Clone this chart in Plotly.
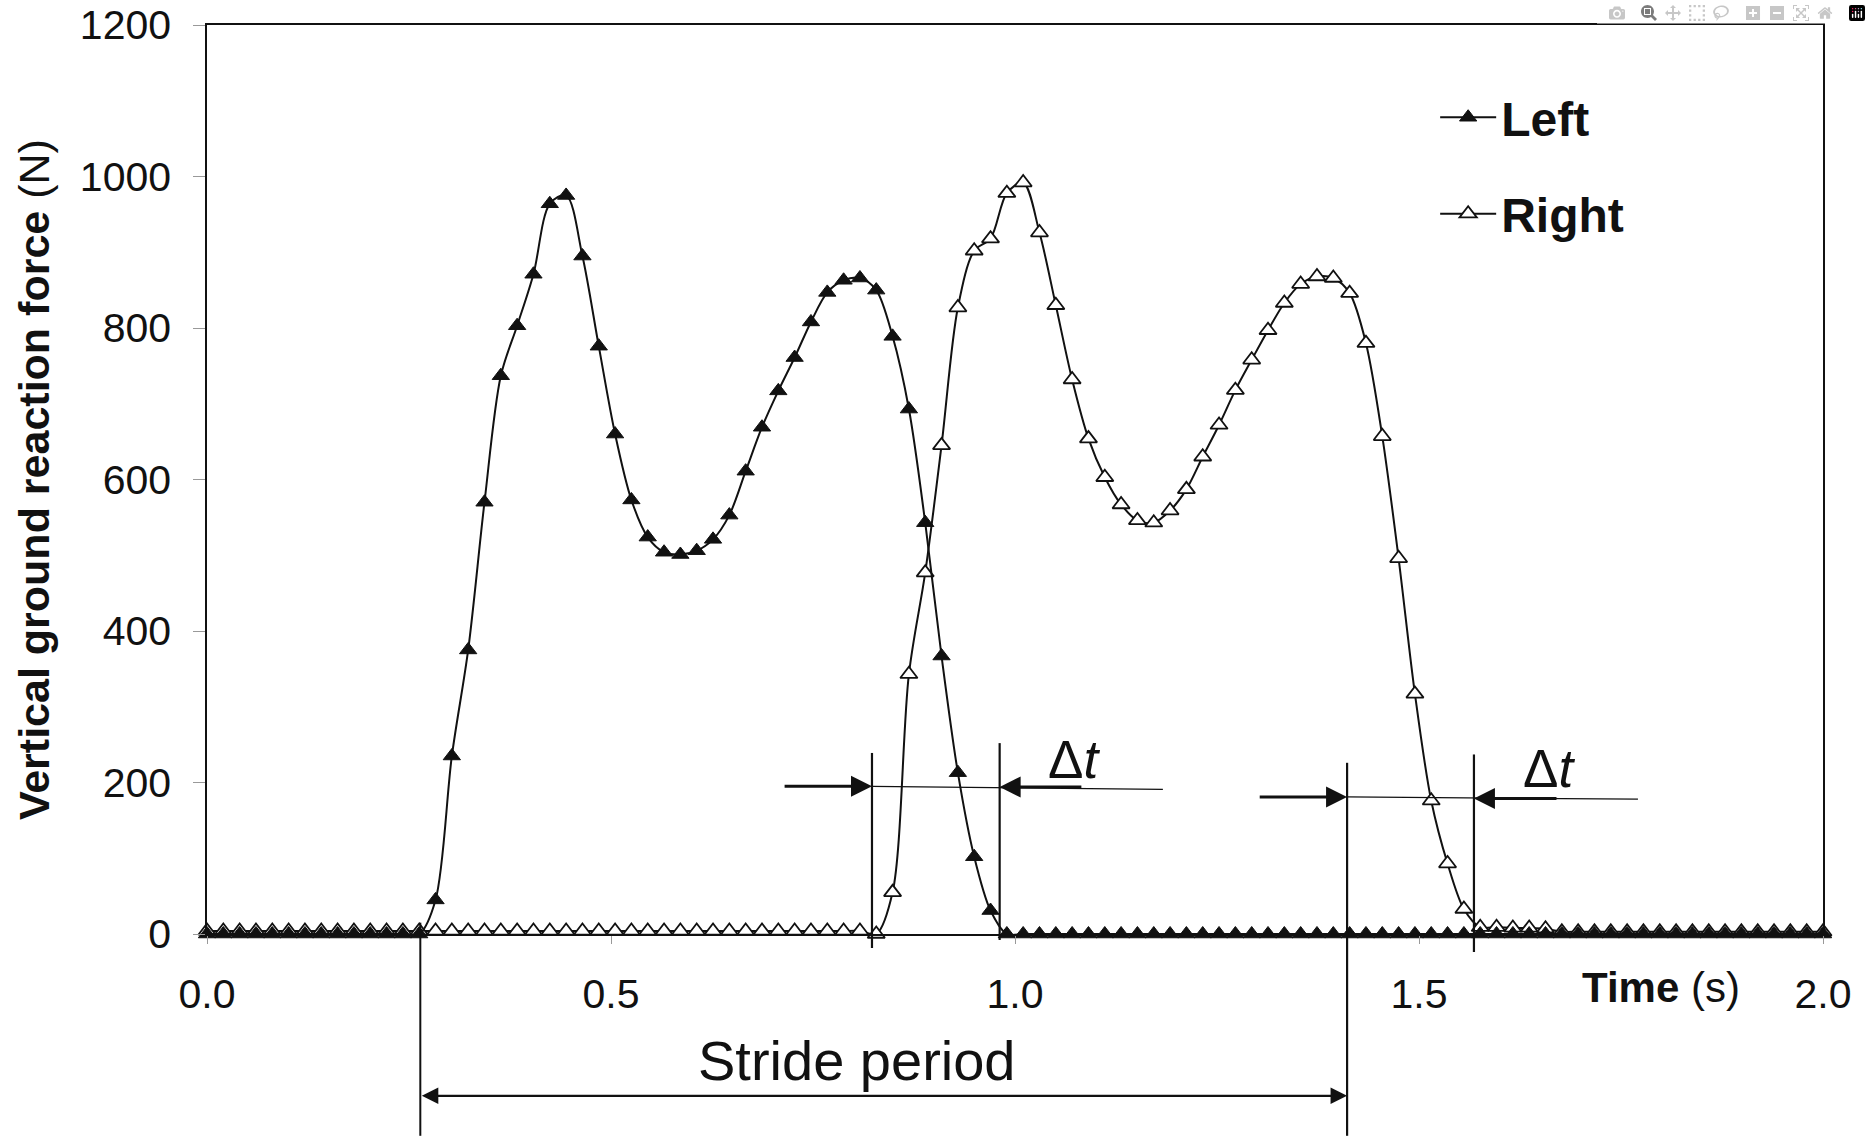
import plotly.graph_objects as go

# ---------------- data ----------------
N_SAMPLES = 100
T_END = 2.0
TIME_S = [round(i * T_END / (N_SAMPLES - 1), 5) for i in range(N_SAMPLES)]

LEFT_N = [
    0, 0, 0, 0, 0, 0, 0, 0, 0, 0,
    0, 0, 0, 0, 45, 235, 375, 570, 737, 803,
    871, 964, 975, 895, 776, 660, 573, 524, 504, 501,
    506, 521, 553, 611, 669, 717, 761, 808, 847, 863,
    866, 850, 789, 693, 543, 367, 213, 102, 31, 0,
    0, 0, 0, 0, 0, 0, 0, 0, 0, 0,
    0, 0, 0, 0, 0, 0, 0, 0, 0, 0,
    0, 0, 0, 0, 0, 0, 0, 0, 0, 0,
    0, 0, 0, 0, 0, 0, 0, 0, 0, 0,
    0, 0, 0, 0, 0, 0, 0, 0, 0, 0,
]

RIGHT_N = [
    4, 4, 4, 4, 4, 4, 4, 4, 4, 4,
    4, 4, 4, 4, 4, 4, 4, 4, 4, 4,
    4, 4, 4, 4, 4, 4, 4, 4, 4, 4,
    4, 4, 4, 4, 4, 4, 4, 4, 4, 4,
    4, 0, 55, 343, 477, 645, 827, 902, 918, 978,
    992, 926, 830, 732, 654, 603, 567, 546, 543, 559,
    587, 630, 672, 718, 758, 797, 833, 858, 868, 866,
    846, 780, 657, 496, 317, 176, 93, 33, 9, 9,
    8, 8, 7, 3, 3, 3, 3, 3, 3, 3,
    3, 3, 3, 3, 3, 3, 3, 3, 3, 3,
]

X_TICKS = [0.0, 0.5, 1.0, 1.5, 2.0]
Y_TICKS = [0, 200, 400, 600, 800, 1000, 1200]

# event times (s) of the annotation marks
HEEL_STRIKE_L = 0.264
HEEL_STRIKE_L2 = 1.411
TOE_OFF_L = 0.981
HEEL_STRIKE_R = 0.823
TOE_OFF_R = 1.568

# ---------------- styling ----------------
FONT = "Liberation Sans, Arial, sans-serif"
BLACK = "#111111"

fig = go.Figure()

fig.add_trace(go.Scatter(
    x=TIME_S, y=RIGHT_N, name="<b>Right</b>", mode="lines+markers",
    line=dict(color=BLACK, width=2, shape="spline", smoothing=0.9),
    marker=dict(symbol="triangle-up", size=15, color="white",
                line=dict(color=BLACK, width=1.8)),
    cliponaxis=False, legendgroup="R", legendrank=2,
))
fig.add_trace(go.Scatter(
    x=TIME_S, y=LEFT_N, name="<b>Left</b>", mode="lines+markers",
    line=dict(color=BLACK, width=2, shape="spline", smoothing=0.9),
    marker=dict(symbol="triangle-up", size=15, color=BLACK,
                line=dict(color=BLACK, width=1)),
    cliponaxis=False, legendgroup="L", legendrank=1,
))

shapes = []
def vline(x, y_top, below_paper, width=2.2):
    shapes.append(dict(type="line", xref="x", yref="y", x0=x, x1=x, y0=0, y1=y_top,
                       line=dict(color=BLACK, width=width)))
    shapes.append(dict(type="line", xref="x", yref="paper", x0=x, x1=x, y0=below_paper, y1=0,
                       line=dict(color=BLACK, width=width)))

# Delta t (1)
vline(HEEL_STRIKE_R, 239, -0.0154)
vline(TOE_OFF_L, 252, -0.0066)
shapes.append(dict(type="line", xref="x", yref="y", x0=HEEL_STRIKE_R, y0=195, x1=1.183, y1=191,
                   line=dict(color=BLACK, width=1.2)))
# Delta t (2)
vline(HEEL_STRIKE_L2, 226, -0.222)
vline(TOE_OFF_R, 237, -0.0198)
shapes.append(dict(type="line", xref="x", yref="y", x0=HEEL_STRIKE_L2, y0=181, x1=1.771, y1=178,
                   line=dict(color=BLACK, width=1.2)))
# stride period start line
vline(HEEL_STRIKE_L, 15, -0.222, width=2)

ann = []
# axis titles
ann.append(dict(text="<b>Vertical ground reaction force</b> (N)", xref="paper", yref="paper",
                x=-0.1073, y=0.5, textangle=-90, showarrow=False,
                xanchor="center", yanchor="middle", font=dict(family=FONT, size=43, color=BLACK)))
ann.append(dict(text="<b>Time</b> (s)", xref="x", yref="paper", x=1.80, y=-0.0594,
                showarrow=False, xanchor="center", yanchor="middle",
                font=dict(family=FONT, size=42, color=BLACK)))
# stride period
ann.append(dict(text="Stride period", xref="x", yref="paper", x=0.805, y=-0.139,
                showarrow=False, xanchor="center", yanchor="middle",
                font=dict(family=FONT, size=56, color=BLACK)))
ann.append(dict(text="", xref="x", yref="paper", x=HEEL_STRIKE_L2, y=-0.178,
                axref="x", ax=HEEL_STRIKE_L, ayref="pixel", ay=0,
                showarrow=True, arrowhead=2, arrowside="end+start", arrowsize=1.5,
                arrowwidth=2.2, arrowcolor=BLACK, standoff=0, startstandoff=0))
# delta t labels
for xt, yt in [(1.073, 231), (1.661, 219)]:
    ann.append(dict(text="\u0394<i>t</i>", xref="x", yref="y", x=xt, y=yt, showarrow=False,
                    xanchor="center", yanchor="middle",
                    font=dict(family=FONT, size=53, color=BLACK)))
# delta t arrows
for head_x, head_y, tail_x in [(HEEL_STRIKE_R, 195, 0.713), (TOE_OFF_L, 194, 1.084),
                               (HEEL_STRIKE_L2, 181, 1.301), (TOE_OFF_R, 179, 1.672)]:
    ann.append(dict(text="", xref="x", yref="y", x=head_x, y=head_y,
                    axref="x", ax=tail_x, ayref="y", ay=head_y,
                    showarrow=True, arrowhead=2, arrowsize=1.4, arrowwidth=3,
                    arrowcolor=BLACK, standoff=0))

fig.update_layout(
    template="none",
    width=1871, height=1136,
    margin=dict(l=207, r=48, t=25, b=202, autoexpand=False),
    paper_bgcolor="white", plot_bgcolor="white",
    font=dict(family=FONT, color=BLACK),
    showlegend=True,
    legend=dict(x=0.760, y=0.94, xanchor="left", yanchor="top",
                font=dict(family=FONT, size=48, color=BLACK),
                bgcolor="rgba(0,0,0,0)", borderwidth=0, traceorder="grouped",
                tracegroupgap=31, itemwidth=56),
    xaxis=dict(range=[0, 2.0], tickvals=X_TICKS, ticktext=[f"{v:.1f}" for v in X_TICKS],
               showline=True, linecolor=BLACK, linewidth=1.5, mirror=True,
               ticks="outside", ticklen=8, tickcolor="#999999", tickwidth=1,
               tickfont=dict(family=FONT, size=41, color=BLACK), automargin=False,
               ticklabelstandoff=15, showgrid=False, zeroline=False),
    yaxis=dict(range=[0, 1200], tickvals=Y_TICKS,
               showline=True, linecolor=BLACK, linewidth=1.5, mirror=True,
               ticks="outside", ticklen=12, tickcolor="#999999", tickwidth=1,
               tickfont=dict(family=FONT, size=41, color=BLACK), automargin=False,
               ticklabelstandoff=14, showgrid=False, zeroline=False),
    shapes=shapes,
    annotations=ann,
)

fig.write_html("out.html", post_script="document.body.style.margin='0';")
